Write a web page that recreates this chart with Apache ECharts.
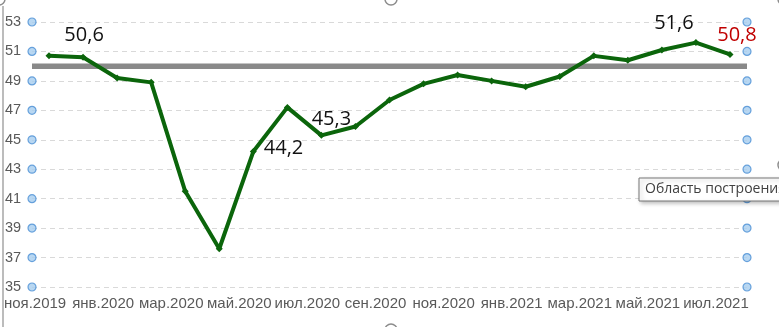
<!DOCTYPE html>
<html>
<head>
<meta charset="utf-8">
<script src="https://cdn.jsdelivr.net/npm/echarts@6/dist/echarts.min.js"></script>
<style>
html,body{margin:0;padding:0;background:#fff;}
#c{width:779px;height:327px;}
</style>
</head>
<body>
<div id="c"></div>
<script>
const categories = ['ноя.2019','дек.2019','янв.2020','фев.2020','мар.2020','апр.2020','май.2020','июн.2020','июл.2020','авг.2020','сен.2020','окт.2020','ноя.2020','дек.2020','янв.2021','фев.2021','мар.2021','апр.2021','май.2021','июн.2021','июл.2021'];
const values = [50.7, 50.6, 49.2, 48.9, 41.5, 37.6, 44.2, 47.2, 45.3, 45.9, 47.7, 48.8, 49.4, 49.0, 48.6, 49.3, 50.7, 50.4, 51.1, 51.6, 50.8];
const yTicks = [35, 37, 39, 41, 43, 45, 47, 49, 51, 53];
const threshold = 50;
const labelledPoints = [1, 6, 8, 19, 20];
const tooltipText = 'Область построения';

const lblStyle = {
  1: {position: 'top', offset: [1, -4]},
  6: {position: 'right', offset: [2, -3]},
  8: {position: 'top', offset: [10, 2]},
  19: {position: 'top', offset: [-22, -1]},
  20: {position: 'top', offset: [7, -1], color: '#c00000'}
};

const seriesData = values.map((v, i) => {
  if (labelledPoints.indexOf(i) < 0) return v;
  const s = lblStyle[i];
  return {
    value: v,
    label: {
      show: true,
      position: s.position,
      offset: s.offset,
      color: s.color || '#111',
      fontFamily: 'Open Sans',
      fontSize: 20,
      formatter: p => String(p.value).replace('.', ',')
    }
  };
});

const handleData = [];
yTicks.forEach(t => { handleData.push([0, t]); handleData.push([1, t]); });

const chart = echarts.init(document.getElementById('c'), null, {renderer: 'canvas'});
chart.setOption({
  animation: false,
  grid: {left: 32, right: 32, top: 22, bottom: 40, containLabel: false},
  xAxis: [{
    type: 'category',
    data: categories,
    boundaryGap: true,
    axisLine: {show: false},
    axisTick: {show: false},
    axisLabel: {
      interval: 1,
      margin: 9,
      color: '#595959',
      fontFamily: 'Liberation Sans',
      fontSize: 15,
      padding: [0, 28, 0, 0]
    },
    splitLine: {show: false}
  }, {
    type: 'value', min: 0, max: 1, show: false
  }],
  yAxis: {
    type: 'value',
    min: 35, max: 53, interval: 2,
    axisLine: {show: false},
    axisTick: {show: false},
    axisLabel: {
      align: 'left',
      margin: 27,
      color: '#595959',
      fontFamily: 'Liberation Sans',
      fontSize: 14.5
    },
    splitLine: {show: true, lineStyle: {color: '#d9d9d9', type: [5, 4], width: 1}}
  },
  series: [{
    type: 'line',
    xAxisIndex: 1,
    data: [[0, threshold], [1, threshold]],
    symbol: 'none',
    lineStyle: {color: '#898989', width: 5.5},
    z: 2,
    silent: true
  }, {
    type: 'line',
    xAxisIndex: 0,
    data: seriesData,
    symbol: 'diamond',
    symbolSize: 7,
    itemStyle: {color: '#0b650b'},
    lineStyle: {color: '#0b650b', width: 4},
    z: 3,
    silent: true
  }, {
    type: 'scatter',
    xAxisIndex: 1,
    data: handleData,
    symbol: 'circle',
    symbolSize: 8,
    itemStyle: {color: '#a6cdef', borderColor: '#4a8fd4', borderWidth: 1.2},
    z: 4,
    silent: true
  }],
  graphic: [
    {type: 'line', shape: {x1: 3, y1: 6, x2: 3, y2: 327}, style: {stroke: '#a6a6a6', lineWidth: 1.5}},
    {type: 'circle', shape: {cx: -1, cy: -1, r: 6}, style: {fill: '#fff', stroke: '#8c8c8c', lineWidth: 1.5}},
    {type: 'circle', shape: {cx: 391, cy: -1, r: 6}, style: {fill: '#fff', stroke: '#8c8c8c', lineWidth: 1.5}},
    {type: 'circle', shape: {cx: 784, cy: -1, r: 6}, style: {fill: '#fff', stroke: '#8c8c8c', lineWidth: 1.5}},
    {type: 'circle', shape: {cx: 784, cy: 165, r: 6}, style: {fill: '#fff', stroke: '#8c8c8c', lineWidth: 1.5}},
    {type: 'circle', shape: {cx: 391, cy: 330, r: 6}, style: {fill: '#fff', stroke: '#8c8c8c', lineWidth: 1.5}},
    {type: 'rect', shape: {x: 639, y: 178, width: 150, height: 23}, style: {fill: '#fff', stroke: '#767676', lineWidth: 1, shadowBlur: 4, shadowOffsetX: 2, shadowOffsetY: 2, shadowColor: 'rgba(0,0,0,0.25)'}, z: 100},
    {type: 'text', x: 645, y: 189.5, style: {text: tooltipText, fill: '#404040', font: '14px "Open Sans"', verticalAlign: 'middle'}, z: 101}
  ]
});
</script>
</body>
</html>
